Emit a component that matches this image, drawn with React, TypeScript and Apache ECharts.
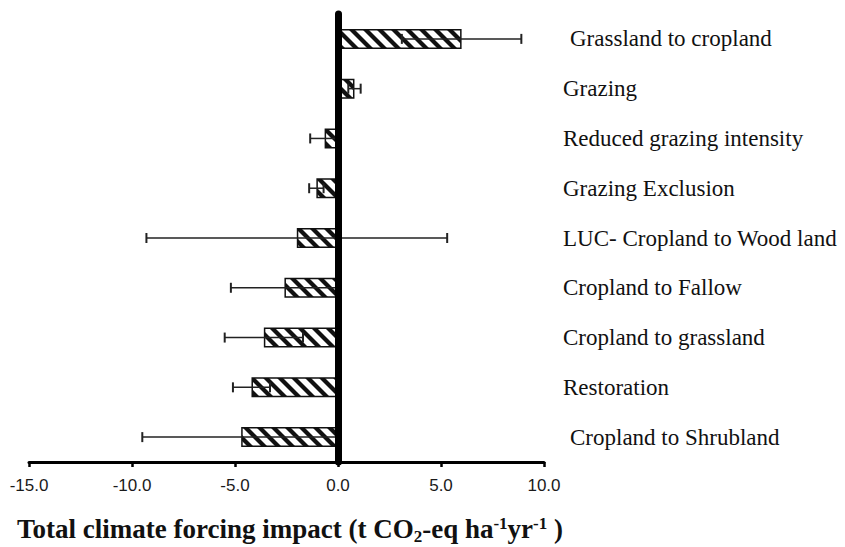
import React, { useEffect, useRef } from "react";
import * as echarts from "echarts";

const categories = [
  "Grassland to cropland",
  "Grazing",
  "Reduced grazing intensity",
  "Grazing Exclusion",
  "LUC- Cropland to Wood land",
  "Cropland to Fallow",
  "Cropland to grassland",
  "Restoration",
  "Cropland to Shrubland",
];
const means = [6.0, 0.8, -0.65, -1.05, -2.0, -2.6, -3.6, -4.2, -4.7];
const errors = [2.9, 0.3, 0.7, 0.35, 7.3, 2.6, 1.9, 0.9, 4.8];
const xMin = -15;
const xMax = 10;
const xStep = 5;

function makeHatch(): HTMLCanvasElement {
  const s = 14;
  const c = document.createElement("canvas");
  c.width = s;
  c.height = s;
  const ctx = c.getContext("2d")!;
  ctx.fillStyle = "#fff";
  ctx.fillRect(0, 0, s, s);
  ctx.strokeStyle = "#111";
  ctx.lineWidth = 4.2;
  for (let k = -1; k <= 1; k++) {
    ctx.beginPath();
    ctx.moveTo(k * s - 2, -2);
    ctx.lineTo(k * s + s + 2, s + 2);
    ctx.stroke();
  }
  return c;
}

export default function App() {
  const ref = useRef<HTMLDivElement>(null);
  useEffect(() => {
    if (!ref.current) return;
    const chart = echarts.init(ref.current, null, { renderer: "svg" });
    const hatch = makeHatch();
    const errData = means.map((m, i) => [m - errors[i], m + errors[i], i]);
    const indented = [0, 8];
    const serif = "Liberation Serif";
    chart.setOption({
      animation: false,
      backgroundColor: "#fff",
      title: {
        text: "{a|Total climate forcing impact (t CO}{s|2}{a|-eq ha}{p|-1}{a|yr}{p|-1}{a| )}",
        left: 17,
        top: 513,
        padding: 0,
        textStyle: {
          rich: {
            a: { fontFamily: serif, fontWeight: "bold", fontSize: 27, color: "#111", lineHeight: 32 },
            s: { fontFamily: serif, fontWeight: "bold", fontSize: 17, color: "#111", lineHeight: 17, verticalAlign: "bottom" },
            p: { fontFamily: serif, fontWeight: "bold", fontSize: 17, color: "#111", lineHeight: 17, verticalAlign: "top", padding: [2, 0, 0, 0] },
          },
        },
      },
      grid: { left: 29, right: 301, top: 14, bottom: 85, containLabel: false },
      xAxis: {
        type: "value",
        min: xMin,
        max: xMax,
        interval: xStep,
        axisLine: { show: true, onZero: false, lineStyle: { color: "#000", width: 3 } },
        axisTick: { show: true, length: 5, lineStyle: { color: "#000", width: 2.5 } },
        axisLabel: {
          formatter: (v: number) => v.toFixed(1),
          fontFamily: "Liberation Sans",
          fontSize: 17,
          color: "#1a1a1a",
          margin: 15,
        },
        splitLine: { show: false },
      },
      yAxis: [
        {
          type: "category",
          data: categories,
          inverse: true,
          z: 10,
          axisLine: { show: true, onZero: true, lineStyle: { color: "#000", width: 7 } },
          axisTick: { show: false },
          axisLabel: { show: false },
          splitLine: { show: false },
        },
        {
          type: "category",
          data: categories,
          inverse: true,
          position: "right",
          axisLine: { show: false },
          axisTick: { show: false },
          axisLabel: {
            show: true,
            margin: 19,
            formatter: (v: string, i: number) => (indented.includes(i) ? `{i|${v}}` : `{n|${v}}`),
            rich: {
              n: { fontFamily: serif, fontSize: 23, color: "#111" },
              i: { fontFamily: serif, fontSize: 23, color: "#111", padding: [0, 0, 0, 7] },
            },
          },
          splitLine: { show: false },
        },
      ],
      series: [
        {
          type: "bar",
          yAxisIndex: 0,
          data: means,
          barWidth: 20,
          itemStyle: {
            color: { image: hatch, repeat: "repeat" },
            borderColor: "#111",
            borderWidth: 1.5,
          },
        },
        {
          type: "custom",
          yAxisIndex: 0,
          data: errData,
          encode: { x: [0, 1], y: 2 },
          z: 5,
          renderItem: (params: any, api: any) => {
            const lo = api.coord([api.value(0), api.value(2)]);
            const hi = api.coord([api.value(1), api.value(2)]);
            const h = 5;
            const st = { stroke: "#222", lineWidth: 1.5 };
            return {
              type: "group",
              children: [
                { type: "line", shape: { x1: lo[0], y1: lo[1], x2: hi[0], y2: hi[1] }, style: st },
                { type: "line", shape: { x1: lo[0], y1: lo[1] - h, x2: lo[0], y2: lo[1] + h }, style: { stroke: "#222", lineWidth: 2 } },
                { type: "line", shape: { x1: hi[0], y1: hi[1] - h, x2: hi[0], y2: hi[1] + h }, style: { stroke: "#222", lineWidth: 2 } },
              ],
            };
          },
        },
      ],
    });
    return () => chart.dispose();
  }, []);
  return <div ref={ref} style={{ width: 845, height: 547, position: "absolute", left: 0, top: 0 }} />;
}
